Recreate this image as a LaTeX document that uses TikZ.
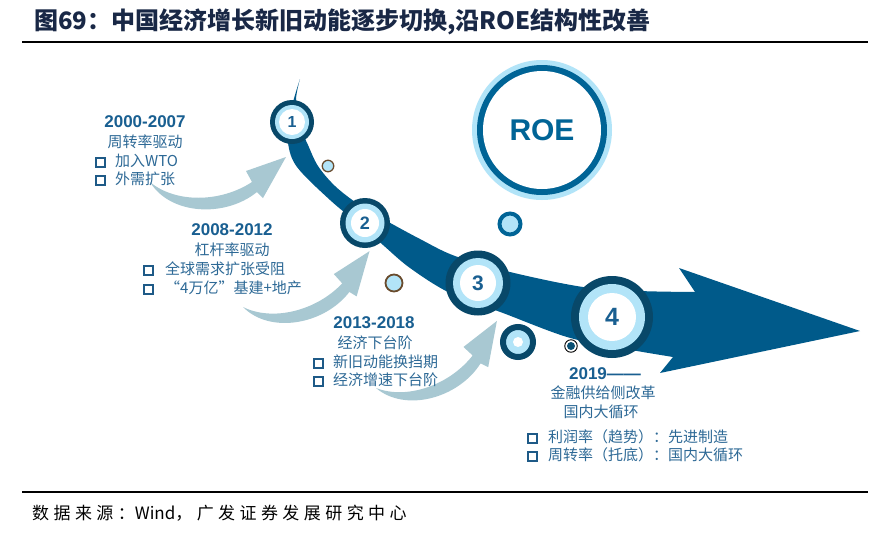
\documentclass[tikz,border=0pt]{standalone}
\usepackage{fontspec}
\setmainfont{Liberation Sans}
\newfontfamily\cjk{Noto Sans CJK SC}
\newfontfamily\cjksp[LetterSpace=26]{Noto Sans CJK SC}
\definecolor{arrowc}{RGB}{0,90,138}
\definecolor{ringdark}{RGB}{8,72,105}
\definecolor{ringlight}{RGB}{178,228,248}
\definecolor{roedark}{RGB}{0,100,150}
\definecolor{greyarr}{RGB}{168,200,210}
\definecolor{yearc}{RGB}{25,95,145}
\definecolor{txtc}{RGB}{45,105,150}
\definecolor{sqc}{RGB}{30,90,135}
\definecolor{titlec}{RGB}{25,40,70}
\definecolor{brownc}{RGB}{105,75,45}
\definecolor{dotc}{RGB}{10,80,115}
\newcommand\sqbox{\raisebox{0.6pt}{{\color{sqc}\setlength{\fboxrule}{2.1pt}\setlength{\fboxsep}{0pt}\fbox{\rule{0pt}{6.8pt}\hspace{6.8pt}}}}}
\newcommand\grshape{\fill[greyarr] (0,0) .. controls (20,33) and (75,36) .. (107,10) -- (113,16) -- (136,-25) -- (96,-11) -- (102,0) .. controls (70,21) and (25,21) .. (0,0) -- cycle;}
\newcommand\numring[6]{%
  \fill[ringdark] #2 circle (#3pt);
  \fill[ringlight] #2 circle (#4pt);
  \node[circle, fill=white, minimum size=2*#5pt, inner sep=0pt, text=yearc, font=\bfseries] (#1) at #2 {#6};
}
\begin{document}
\begin{tikzpicture}[x=1pt,y=-1pt,
  year/.style={font=\bfseries\fontsize{17}{20}\selectfont, text=yearc, inner sep=0pt},
  cjktxt/.style={font=\cjk\fontsize{15}{18}\selectfont, text=txtc, inner sep=0pt},
  smallc/.style={circle, inner sep=0pt}]
\useasboundingbox (0,0) rectangle (892,539);
\fill[white] (0,0) rectangle (892,539);

% title and rules
\node[anchor=west, inner sep=0pt, font=\cjk\bfseries\fontsize{24}{28}\selectfont, text=titlec] (title) at (34,22) {图69：中国经济增长新旧动能逐步切换,沿ROE结构性改善};
\coordinate (tl1) at (22,42); \coordinate (tl2) at (868,42);
\coordinate (bl1) at (22,492); \coordinate (bl2) at (868,492);
\draw[line width=1.1pt] (tl1) -- (tl2);
\draw[line width=1.1pt] (bl1) -- (bl2);
\node[anchor=west, inner sep=0pt, font=\fontsize{17}{20}\selectfont] (src) at (32,513) {{\cjksp 数据来源：}{\cjk Wind}{\cjksp ，广发证券发展研究中心}};

% grey curved arrows
\begin{scope}[shift={(150,182)}] \grshape \end{scope}
\begin{scope}[shift={(243,307)}, rotate=13.4] \grshape \end{scope}
\begin{scope}[shift={(376,388)}, rotate=18.6] \grshape \end{scope}

% main arrow
\fill[arrowc] plot[smooth, tension=0.55] coordinates {(300,79) (296,100) (300,126) (308,145) (318,166) (335,186) (358,204) (385,220) (420,239) (455,256) (510,272) (583,287) (640,291) (695,292)}
  -- (679,268) -- (860,331) -- (660,373) -- (673,357)
  -- plot[smooth, tension=0.55] coordinates {(673,357) (620,348) (567,337) (503,313) (450,293) (410,268) (383,245) (360,225) (330,200) (297,167) (288,143) (289,118) (295,95) (300,79)} -- cycle;

% numbered circles
\numring{c1}{(292,122)}{22}{17}{13}{\fontsize{16}{18}\selectfont 1}
\numring{c2}{(365,223)}{25}{19.5}{14}{\fontsize{18}{20}\selectfont 2}
\numring{c3}{(478,283)}{32.5}{25}{18}{\fontsize{21}{24}\selectfont 3}
\numring{c4}{(612,317)}{41}{33}{24}{\fontsize{25}{28}\selectfont 4}

% ROE circle
\fill[ringlight] (542,130) circle (70pt);
\fill[roedark] (542,130) circle (65pt);
\node[circle, fill=white, minimum size=118pt, inner sep=0pt, font=\bfseries\fontsize{30}{32}\selectfont, text=roedark] (roe) at (542,130) {ROE};

% small circles
\node[smallc, draw=brownc, line width=1.3pt, fill=ringlight, minimum size=11.5pt] (s1) at (328,166) {};
\node[smallc, draw=brownc, line width=1.8pt, fill=ringlight, minimum size=17pt] (s2) at (394,283) {};
\node[smallc, draw=roedark, line width=4pt, fill=ringlight, minimum size=21pt] (s3) at (510,224) {};
\node[smallc, draw=ringdark, line width=6pt, fill=ringlight, minimum size=30pt] (s4) at (518,342) {};
\node[smallc, fill=white, minimum size=10pt] (s4c) at (518,342) {};
\node[smallc, draw=black, line width=0.9pt, fill=white, minimum size=12.5pt] (s5) at (571,346) {};
\node[smallc, fill=dotc, minimum size=8pt] (s5c) at (571,346) {};

% block 1
\node[year] (y1) at (145,122) {2000-2007};
\node[cjktxt] (d1) at (145,142) {周转率驱动};
\node[cjktxt, anchor=west] (b1a) at (95,161) {\sqbox\hspace{9pt}加入WTO};
\node[cjktxt, anchor=west] (b1b) at (95,179) {\sqbox\hspace{9pt}外需扩张};

% block 2
\node[year] (y2) at (232,230) {2008-2012};
\node[cjktxt] (d2) at (232,250) {杠杆率驱动};
\node[cjktxt, anchor=west] (b2a) at (143,269) {\sqbox\hspace{11pt}全球需求扩张受阻};
\node[cjktxt, anchor=west] (b2b) at (143,288) {\sqbox\hspace{11pt}“4万亿”基建+地产};

% block 3
\node[year] (y3) at (374,323) {2013-2018};
\node[cjktxt] (d3) at (375,343) {经济下台阶};
\node[cjktxt, anchor=west] (b3a) at (313,362) {\sqbox\hspace{9pt}新旧动能换挡期};
\node[cjktxt, anchor=west] (b3b) at (313,380) {\sqbox\hspace{9pt}经济增速下台阶};

% block 4
\node[year] (y4) at (605,374) {2019——};
\node[cjktxt] (d4a) at (603,393) {金融供给侧改革};
\node[cjktxt] (d4b) at (601,412) {国内大循环};
\node[cjktxt, anchor=west] (b4a) at (527,437) {\sqbox\hspace{10pt}利润率（趋势）：先进制造};
\node[cjktxt, anchor=west] (b4b) at (527,455) {\sqbox\hspace{10pt}周转率（托底）：国内大循环};
\end{tikzpicture}
\end{document}
